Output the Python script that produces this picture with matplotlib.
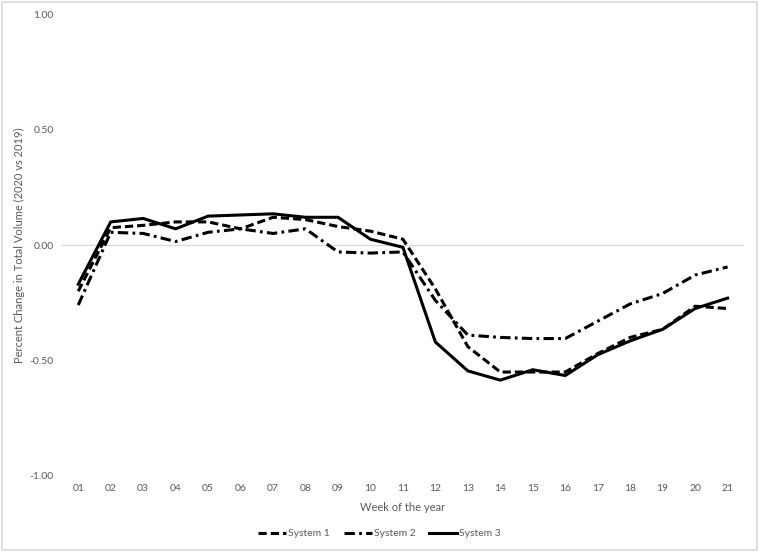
import numpy as np
import matplotlib
matplotlib.use("Agg")
import matplotlib.pyplot as plt
from matplotlib.patches import Rectangle

plt.rcParams['font.family'] = ['Lato', 'DejaVu Sans']

# data
weeks = ['01', '02', '03', '04', '05', '06', '07', '08', '09', '10', '11',
         '12', '13', '14', '15', '16', '17', '18', '19', '20', '21']
system1 = [-0.20, 0.075, 0.085, 0.10, 0.10, 0.07, 0.12, 0.11, 0.08, 0.06, 0.025,
           -0.19, -0.44, -0.55, -0.55, -0.55, -0.47, -0.40, -0.365, -0.265, -0.275]
system2 = [-0.26, 0.055, 0.05, 0.015, 0.055, 0.07, 0.05, 0.07, -0.03, -0.035, -0.03,
           -0.24, -0.39, -0.40, -0.405, -0.405, -0.33, -0.255, -0.21, -0.13, -0.095]
system3 = [-0.17, 0.10, 0.115, 0.07, 0.125, 0.13, 0.135, 0.12, 0.12, 0.025, -0.01,
           -0.42, -0.545, -0.585, -0.54, -0.565, -0.475, -0.415, -0.365, -0.275, -0.23]
yticks = [-1.0, -0.5, 0.0, 0.5, 1.0]

txt = '#595959'

fig = plt.figure(figsize=(7.59, 5.52), dpi=100)
ax = fig.add_axes([0.0817, 0.1377, 0.8983, 0.8369])

x = np.arange(len(weeks))
ax.axhline(0, color='#d9d9d9', lw=0.9, zorder=1)

ax.plot(x, system1, color='black', lw=2.2, dashes=(2.7, 1.3), label='System 1', zorder=3)
ax.plot(x, system2, color='black', lw=2.2, dashes=(3.4, 1.4, 0.9, 1.4), label='System 2', zorder=3)
ax.plot(x, system3, color='black', lw=2.2, label='System 3', zorder=3)

ax.set_xlim(-0.5, len(weeks) - 0.5)
ax.set_ylim(-1.0, 1.0)
ax.set_xticks(x)
ax.set_xticklabels(weeks)
ax.set_yticks(yticks)
ax.set_yticklabels(['%.2f' % v for v in yticks])
ax.tick_params(length=0, labelsize=7.5, colors=txt, pad=6)
for s in ax.spines.values():
    s.set_visible(False)

ax.set_xlabel('Week of the year', fontsize=8, color=txt, labelpad=6)
ax.set_ylabel('Percent Change in Total Volume (2020 vs 2019)', fontsize=8, color=txt, labelpad=3)

leg = fig.legend(loc='center', bbox_to_anchor=(0.5, 0.033), ncol=3, frameon=False,
                 fontsize=7.5, handlelength=2.7, columnspacing=1.3, handletextpad=0.2)
for t in leg.get_texts():
    t.set_color(txt)

fig.add_artist(Rectangle((0.002, 0.003), 0.995, 0.994, transform=fig.transFigure,
                         fill=False, edgecolor='#d9d9d9', lw=1.2))

fig.savefig('out.png', dpi=100, facecolor='white')
